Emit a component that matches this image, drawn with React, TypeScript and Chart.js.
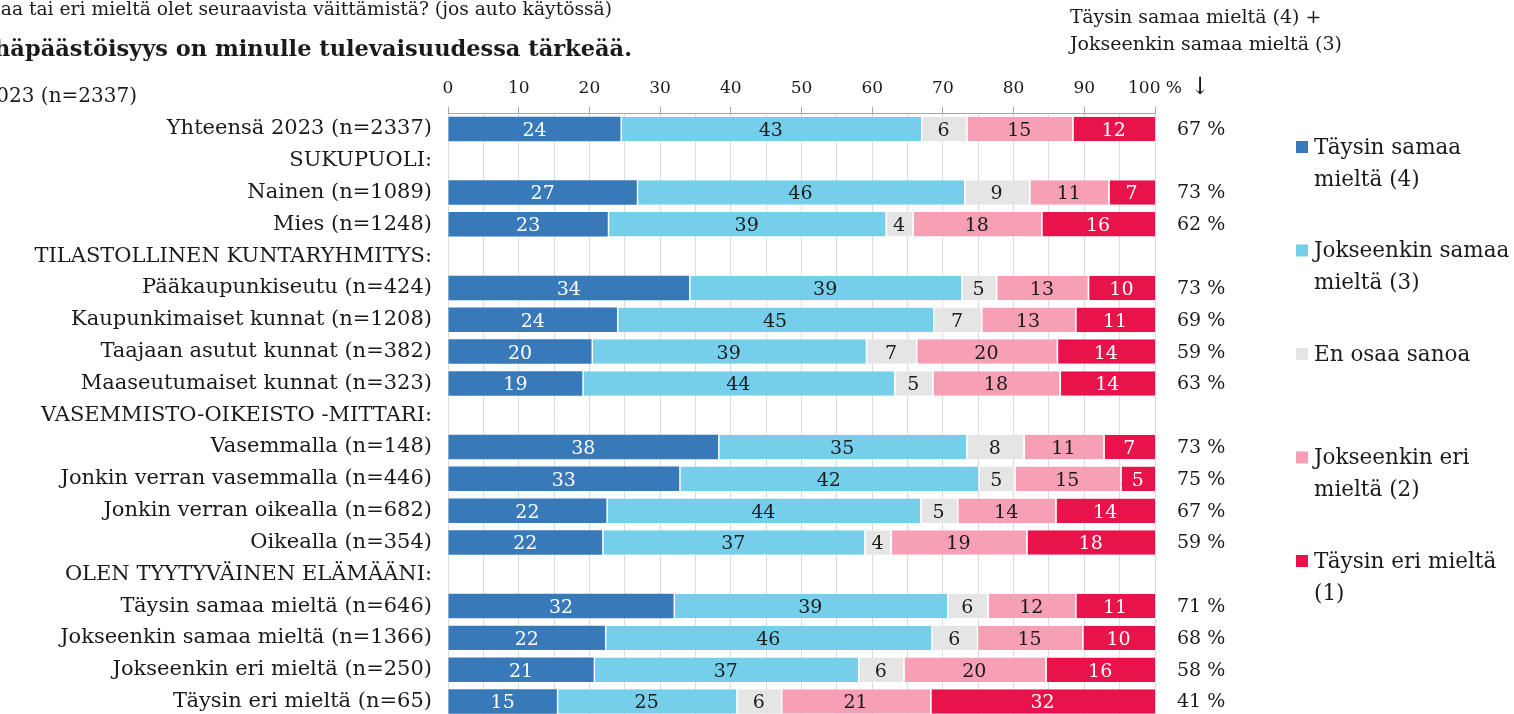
import React, { useEffect, useRef } from 'react';
import { Chart, registerables } from 'chart.js';

Chart.register(...registerables);

const FONT = "'DejaVu Serif', serif";

const categories = [
  'Yhteensä 2023 (n=2337)',
  'SUKUPUOLI:',
  'Nainen (n=1089)',
  'Mies (n=1248)',
  'TILASTOLLINEN KUNTARYHMITYS:',
  'Pääkaupunkiseutu (n=424)',
  'Kaupunkimaiset kunnat (n=1208)',
  'Taajaan asutut kunnat (n=382)',
  'Maaseutumaiset kunnat (n=323)',
  'VASEMMISTO-OIKEISTO -MITTARI:',
  'Vasemmalla (n=148)',
  'Jonkin verran vasemmalla (n=446)',
  'Jonkin verran oikealla (n=682)',
  'Oikealla (n=354)',
  'OLEN TYYTYVÄINEN ELÄMÄÄNI:',
  'Täysin samaa mieltä (n=646)',
  'Jokseenkin samaa mieltä (n=1366)',
  'Jokseenkin eri mieltä (n=250)',
  'Täysin eri mieltä (n=65)',
];

const seriesNames = [
  'Täysin samaa mieltä (4)',
  'Jokseenkin samaa mieltä (3)',
  'En osaa sanoa',
  'Jokseenkin eri mieltä (2)',
  'Täysin eri mieltä (1)',
];

const legendLines = [
  ['Täysin samaa', 'mieltä (4)'],
  ['Jokseenkin samaa', 'mieltä (3)'],
  ['En osaa sanoa'],
  ['Jokseenkin eri', 'mieltä (2)'],
  ['Täysin eri mieltä', '(1)'],
];

const taysinSamaa = [24.4, null, 26.7, 22.6, null, 34.1, 23.9, 20.3, 19.0, null, 38.2, 32.7, 22.4, 21.8, null, 31.9, 22.2, 20.6, 15.4];
const jokseenkinSamaa = [42.5, null, 46.3, 39.3, null, 38.5, 44.7, 38.8, 44.1, null, 35.1, 42.3, 44.4, 37.1, null, 38.7, 46.2, 37.4, 25.4];
const enOsaaSanoa = [6.4, null, 9.2, 3.8, null, 4.9, 6.8, 7.1, 5.4, null, 8.1, 5.1, 5.2, 3.7, null, 5.7, 6.4, 6.4, 6.3];
const jokseenkinEri = [15.0, null, 11.2, 18.2, null, 13.0, 13.3, 19.9, 18.0, null, 11.3, 15.0, 13.9, 19.2, null, 12.4, 14.9, 20.1, 21.1];
const taysinEri = [11.7, null, 6.6, 16.1, null, 9.5, 11.3, 13.9, 13.5, null, 7.3, 4.9, 14.1, 18.2, null, 11.3, 10.3, 15.5, 31.8];

const agreeTotals = ['67 %', '', '73 %', '62 %', '', '73 %', '69 %', '59 %', '63 %', '', '73 %', '75 %', '67 %', '59 %', '', '71 %', '68 %', '58 %', '41 %'];

const xTickLabels = ['0', '10', '20', '30', '40', '50', '60', '70', '80', '90', '100 %'];

const seriesColors = ['#3879ba', '#75cfea', '#e5e5e5', '#f7a0b5', '#e9134b'];
const labelColors = ['#ffffff', '#1a1a1a', '#1a1a1a', '#1a1a1a', '#ffffff'];

const questionText = 'Kuinka samaa tai eri mieltä olet seuraavista väittämistä? (jos auto käytössä)';
const statementText = 'Auton vähäpäästöisyys on minulle tulevaisuudessa tärkeää.';
const sampleText = '2023 (n=2337)';
const noteLines = ['Täysin samaa mieltä (4) +', 'Jokseenkin samaa mieltä (3)'];

const overlayPlugin = {
  id: 'overlay',
  afterDatasetsDraw(chart: any) {
    const ctx = chart.ctx;
    ctx.save();
    ctx.font = `19px ${FONT}`;
    ctx.textAlign = 'center';
    ctx.textBaseline = 'middle';
    chart.data.datasets.forEach((ds: any, di: number) => {
      const meta = chart.getDatasetMeta(di);
      meta.data.forEach((el: any, i: number) => {
        const v = ds.data[i];
        if (v === null || v === undefined) return;
        const cx = (el.x + el.base) / 2;
        ctx.fillStyle = labelColors[di];
        ctx.fillText(String(Math.round(v)), cx, el.y + 2);
      });
    });
    ctx.restore();
  },
  afterDraw(chart: any) {
    const ctx = chart.ctx;
    const yScale = chart.scales.y;
    ctx.save();
    ctx.fillStyle = '#1a1a1a';
    ctx.textBaseline = 'middle';

    // right column totals
    ctx.font = `19px ${FONT}`;
    ctx.textAlign = 'left';
    agreeTotals.forEach((t, i) => {
      if (!t) return;
      ctx.fillText(t, 1177, yScale.getPixelForValue(i) + 1);
    });

    // titles (clipped at the left edge like the reference)
    ctx.textAlign = 'right';
    ctx.font = `18.7px ${FONT}`;
    ctx.fillText(questionText, 612, 10);
    ctx.font = `bold 22.5px ${FONT}`;
    ctx.fillText(statementText, 632, 50);
    ctx.font = `20px ${FONT}`;
    ctx.fillText(sampleText, 137, 97);

    // note at top right
    ctx.textAlign = 'left';
    ctx.font = `19px ${FONT}`;
    noteLines.forEach((l, i) => ctx.fillText(l, 1070, 18 + i * 27));
    ctx.textAlign = 'center';
    ctx.font = `24px ${FONT}`;
    ctx.fillText('↓', 1200, 88);

    // legend
    ctx.textAlign = 'left';
    ctx.font = `21.5px ${FONT}`;
    legendLines.forEach((lines, i) => {
      const y0 = 148 + i * 103.5;
      ctx.fillStyle = seriesColors[i];
      ctx.fillRect(1296, y0 - 7, 12, 12);
      ctx.fillStyle = '#1a1a1a';
      lines.forEach((l, j) => ctx.fillText(l, 1314, y0 + j * 32));
    });
    ctx.restore();
  },
};

export default function App() {
  const ref = useRef<HTMLCanvasElement>(null);
  useEffect(() => {
    if (!ref.current) return;
    const seriesData = [taysinSamaa, jokseenkinSamaa, enOsaaSanoa, jokseenkinEri, taysinEri];
    const chart = new Chart(ref.current, {
      type: 'bar',
      data: {
        labels: categories,
        datasets: seriesData.map((d, i) => ({
          label: seriesNames[i],
          data: d,
          backgroundColor: seriesColors[i],
          borderColor: '#ffffff',
          borderWidth: i === 0 ? 0 : { left: 1.5, right: 0, top: 0, bottom: 0 },
          borderSkipped: false,
          barPercentage: 0.77,
          categoryPercentage: 1,
        })),
      },
      options: {
        indexAxis: 'y',
        responsive: false,
        animation: false,
        devicePixelRatio: 1,
        layout: { padding: { left: 0, top: 0, right: 359, bottom: 18 } },
        plugins: {
          legend: { display: false },
          tooltip: { enabled: false },
          title: { display: false },
        },
        scales: {
          x: {
            position: 'top',
            stacked: true,
            min: 0,
            max: 100,
            afterFit: (s: any) => { s.height = 113; },
            border: { display: true, color: '#a6a6a6', width: 1 },
            grid: {
              color: '#dcdcdc',
              lineWidth: 1,
              drawTicks: true,
              tickLength: 6,
              tickColor: (c: any) => (c.tick && c.tick.value % 10 === 0 ? '#a6a6a6' : 'rgba(0,0,0,0)'),
            },
            ticks: {
              stepSize: 5,
              autoSkip: false,
              maxRotation: 0,
              padding: 8,
              color: '#1a1a1a',
              font: { family: FONT, size: 17 },
              callback: (v: any) => (Number(v) % 10 === 0 ? xTickLabels[Number(v) / 10] : ''),
            },
          },
          y: {
            stacked: true,
            afterFit: (s: any) => { s.width = 448; },
            border: { display: false },
            grid: { display: false, drawTicks: false },
            ticks: {
              autoSkip: false,
              padding: 16,
              color: '#1a1a1a',
              font: { family: FONT, size: 21 },
            },
          },
        },
      },
      plugins: [overlayPlugin],
    });
    return () => chart.destroy();
  }, []);
  return (
    <div style={{ position: 'absolute', left: 0, top: 0, width: 1514, height: 714, overflow: 'hidden', background: '#fff' }}>
      <canvas ref={ref} width={1514} height={746} style={{ display: 'block' }} />
    </div>
  );
}
